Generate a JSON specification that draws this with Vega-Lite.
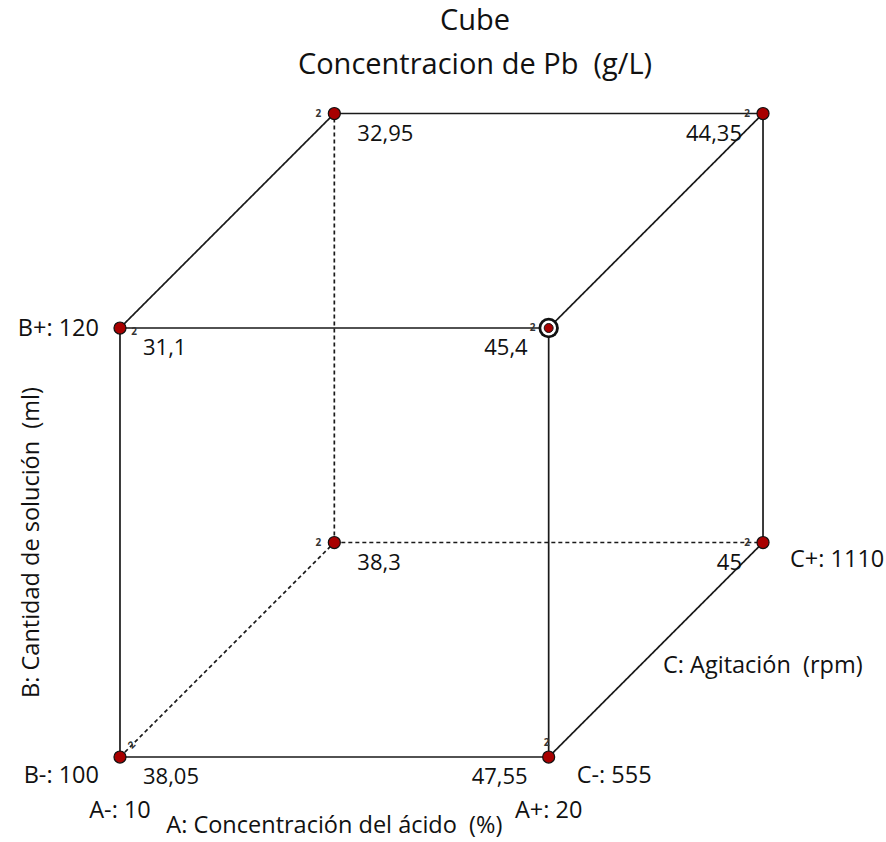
{
  "$schema": "https://vega.github.io/schema/vega-lite/v6.json",
  "width": 886,
  "height": 752,
  "autosize": "none",
  "padding": {"left": 0, "right": 0, "top": 90, "bottom": 0},
  "background": "white",
  "config": {"view": {"stroke": null}, "font": "Open Sans"},
  "title": {
    "text": ["Cube", "Concentracion de Pb\u00a0 (g/L)"],
    "font": "Open Sans",
    "fontSize": 29,
    "fontWeight": "normal",
    "color": "#111",
    "lineHeight": 44,
    "anchor": "middle",
    "dx": 32,
    "offset": 10
  },
  "datasets": {
    "vertices": [
      {"corner": "A-B-C-", "A": "-", "B": "-", "C": "-", "x": 0, "y": 0, "value": "38,05", "n": "2", "highlight": false},
      {"corner": "A+B-C-", "A": "+", "B": "-", "C": "-", "x": 1, "y": 0, "value": "47,55", "n": "2", "highlight": false},
      {"corner": "A-B+C-", "A": "-", "B": "+", "C": "-", "x": 0, "y": 1, "value": "31,1", "n": "2", "highlight": false},
      {"corner": "A+B+C-", "A": "+", "B": "+", "C": "-", "x": 1, "y": 1, "value": "45,4", "n": "2", "highlight": true},
      {"corner": "A-B-C+", "A": "-", "B": "-", "C": "+", "x": 0.5, "y": 0.5, "value": "38,3", "n": "2", "highlight": false},
      {"corner": "A+B-C+", "A": "+", "B": "-", "C": "+", "x": 1.5, "y": 0.5, "value": "45", "n": "2", "highlight": false},
      {"corner": "A-B+C+", "A": "-", "B": "+", "C": "+", "x": 0.5, "y": 1.5, "value": "32,95", "n": "2", "highlight": false},
      {"corner": "A+B+C+", "A": "+", "B": "+", "C": "+", "x": 1.5, "y": 1.5, "value": "44,35", "n": "2", "highlight": false}
    ],
    "edges": [
      {"x": 0, "y": 0, "x2": 1, "y2": 0, "style": "solid"},
      {"x": 0, "y": 1, "x2": 1, "y2": 1, "style": "solid"},
      {"x": 0, "y": 0, "x2": 0, "y2": 1, "style": "solid"},
      {"x": 1, "y": 0, "x2": 1, "y2": 1, "style": "solid"},
      {"x": 0.5, "y": 1.5, "x2": 1.5, "y2": 1.5, "style": "solid"},
      {"x": 1.5, "y": 0.5, "x2": 1.5, "y2": 1.5, "style": "solid"},
      {"x": 0.5, "y": 0.5, "x2": 1.5, "y2": 0.5, "style": "dashed"},
      {"x": 0.5, "y": 0.5, "x2": 0.5, "y2": 1.5, "style": "dashed"},
      {"x": 0, "y": 1, "x2": 0.5, "y2": 1.5, "style": "solid"},
      {"x": 1, "y": 1, "x2": 1.5, "y2": 1.5, "style": "solid"},
      {"x": 1, "y": 0, "x2": 1.5, "y2": 0.5, "style": "solid"},
      {"x": 0, "y": 0, "x2": 0.5, "y2": 0.5, "style": "dashed"}
    ],
    "labels": [
      {"role": "Alevel", "text": "A-: 10", "x": 0, "y": 0},
      {"role": "Alevel", "text": "A+: 20", "x": 1, "y": 0},
      {"role": "Blow", "text": "B-: 100", "x": 0, "y": 0},
      {"role": "Bhigh", "text": "B+: 120", "x": 0, "y": 1},
      {"role": "Clevel", "text": "C-: 555", "x": 1, "y": 0},
      {"role": "Chigh", "text": "C+: 1110", "x": 1.5, "y": 0.5},
      {"role": "Atitle", "text": "A: Concentración del ácido\u00a0 (%)", "x": 0.5, "y": 0},
      {"role": "Btitle", "text": "B: Cantidad de solución\u00a0 (ml)", "x": 0, "y": 0.5},
      {"role": "Ctitle", "text": "C: Agitación\u00a0 (rpm)", "x": 1.25, "y": 0.25}
    ]
  },
  "encoding": {
    "x": {"field": "x", "type": "quantitative", "axis": null, "scale": {"domain": [-0.2799, 1.7869], "nice": false, "zero": false}},
    "y": {"field": "y", "type": "quantitative", "axis": null, "scale": {"domain": [-0.1981, 1.5548], "nice": false, "zero": false}}
  },
  "layer": [
    {
      "data": {"name": "edges"},
      "mark": {"type": "rule", "color": "#1a1a1a", "strokeWidth": 1.7},
      "encoding": {
        "x2": {"field": "x2"},
        "y2": {"field": "y2"},
        "strokeDash": {"field": "style", "type": "nominal", "scale": {"domain": ["solid", "dashed"], "range": [[1, 0], [4, 3]]}, "legend": null}
      }
    },
    {
      "data": {"name": "vertices"},
      "transform": [{"filter": "!datum.highlight"}],
      "mark": {"type": "circle", "size": 145, "fill": "#a80000", "stroke": "#111", "strokeWidth": 1.2, "opacity": 1}
    },
    {
      "data": {"name": "vertices"},
      "transform": [{"filter": "datum.highlight"}],
      "mark": {"type": "circle", "size": 415, "fill": "#111", "opacity": 1}
    },
    {
      "data": {"name": "vertices"},
      "transform": [{"filter": "datum.highlight"}],
      "mark": {"type": "circle", "size": 220, "fill": "white", "opacity": 1}
    },
    {
      "data": {"name": "vertices"},
      "transform": [{"filter": "datum.highlight"}],
      "mark": {"type": "circle", "size": 80, "fill": "#a80000", "stroke": "#111", "strokeWidth": 1, "opacity": 1}
    },
    {
      "data": {"name": "vertices"},
      "transform": [{"filter": "datum.corner != 'A-B+C-' && datum.corner != 'A-B-C-' && datum.corner != 'A+B-C-'"}],
      "mark": {"type": "text", "fontSize": 10, "fontWeight": "bold", "color": "#333", "dx": -16, "dy": 0, "align": "center", "baseline": "middle"},
      "encoding": {"text": {"field": "n"}}
    },
    {
      "data": {"name": "vertices"},
      "transform": [{"filter": "datum.corner == 'A-B+C-'"}],
      "mark": {"type": "text", "fontSize": 10, "fontWeight": "bold", "color": "#333", "dx": 14, "dy": 4, "align": "center", "baseline": "middle"},
      "encoding": {"text": {"field": "n"}}
    },
    {
      "data": {"name": "vertices"},
      "transform": [{"filter": "datum.corner == 'A-B-C-'"}],
      "mark": {"type": "text", "fontSize": 10, "fontWeight": "bold", "color": "#333", "dx": 17, "dy": 0, "angle": 315, "align": "center", "baseline": "middle"},
      "encoding": {"text": {"field": "n"}}
    },
    {
      "data": {"name": "vertices"},
      "transform": [{"filter": "datum.corner == 'A+B-C-'"}],
      "mark": {"type": "text", "fontSize": 10, "fontWeight": "bold", "color": "#333", "dx": -2, "dy": -14, "align": "center", "baseline": "middle"},
      "encoding": {"text": {"field": "n"}}
    },
    {
      "data": {"name": "vertices"},
      "transform": [{"filter": "datum.A == '-'"}],
      "mark": {"type": "text", "fontSize": 22, "color": "#111", "dx": 23, "dy": 20, "align": "left", "baseline": "middle"},
      "encoding": {"text": {"field": "value"}}
    },
    {
      "data": {"name": "vertices"},
      "transform": [{"filter": "datum.A == '+'"}],
      "mark": {"type": "text", "fontSize": 22, "color": "#111", "dx": -21, "dy": 20, "align": "right", "baseline": "middle"},
      "encoding": {"text": {"field": "value"}}
    },
    {
      "data": {"name": "labels"},
      "transform": [{"filter": "datum.role == 'Alevel'"}],
      "mark": {"type": "text", "fontSize": 23.5, "color": "#111", "dy": 54, "align": "center", "baseline": "middle"},
      "encoding": {"text": {"field": "text"}}
    },
    {
      "data": {"name": "labels"},
      "transform": [{"filter": "datum.role == 'Blow'"}],
      "mark": {"type": "text", "fontSize": 23.5, "color": "#111", "dx": -21, "dy": 19, "align": "right", "baseline": "middle"},
      "encoding": {"text": {"field": "text"}}
    },
    {
      "data": {"name": "labels"},
      "transform": [{"filter": "datum.role == 'Bhigh'"}],
      "mark": {"type": "text", "fontSize": 23.5, "color": "#111", "dx": -21, "dy": 1, "align": "right", "baseline": "middle"},
      "encoding": {"text": {"field": "text"}}
    },
    {
      "data": {"name": "labels"},
      "transform": [{"filter": "datum.role == 'Clevel'"}],
      "mark": {"type": "text", "fontSize": 23.5, "color": "#111", "dx": 28, "dy": 19, "align": "left", "baseline": "middle"},
      "encoding": {"text": {"field": "text"}}
    },
    {
      "data": {"name": "labels"},
      "transform": [{"filter": "datum.role == 'Chigh'"}],
      "mark": {"type": "text", "fontSize": 23.5, "color": "#111", "dx": 27, "dy": 17, "align": "left", "baseline": "middle"},
      "encoding": {"text": {"field": "text"}}
    },
    {
      "data": {"name": "labels"},
      "transform": [{"filter": "datum.role == 'Atitle'"}],
      "mark": {"type": "text", "fontSize": 23.5, "color": "#111", "dy": 69, "align": "center", "baseline": "middle"},
      "encoding": {"text": {"field": "text"}}
    },
    {
      "data": {"name": "labels"},
      "transform": [{"filter": "datum.role == 'Btitle'"}],
      "mark": {"type": "text", "fontSize": 23.5, "color": "#111", "angle": 270, "dx": 0, "dy": -88, "align": "center", "baseline": "middle"},
      "encoding": {"text": {"field": "text"}}
    },
    {
      "data": {"name": "labels"},
      "transform": [{"filter": "datum.role == 'Ctitle'"}],
      "mark": {"type": "text", "fontSize": 23.5, "color": "#111", "dx": 107, "dy": 16, "align": "center", "baseline": "middle"},
      "encoding": {"text": {"field": "text"}}
    }
  ]
}
